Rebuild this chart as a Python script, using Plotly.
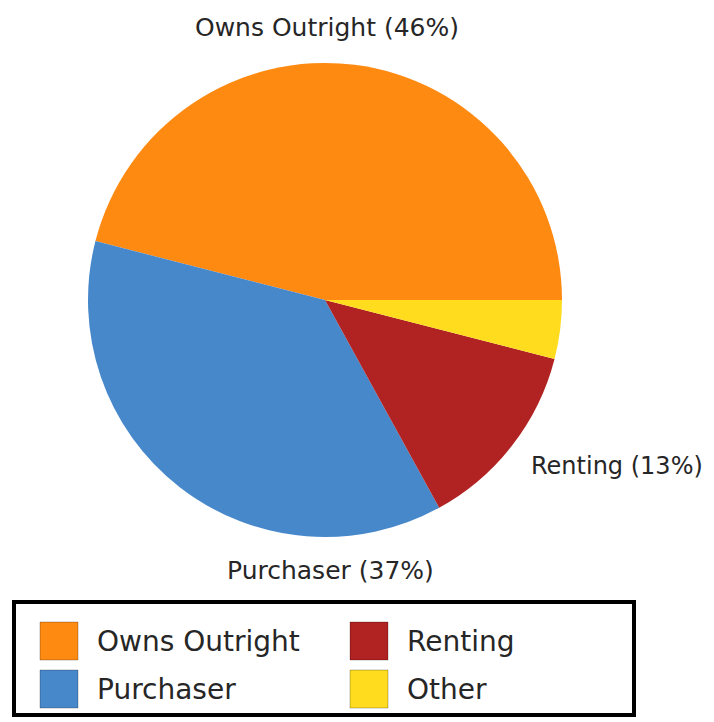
import plotly.graph_objects as go

categories = ["Owns Outright", "Purchaser", "Renting", "Other"]
shares = [46, 37, 13, 4]
colors = ["#FF8A12", "#4788CB", "#B12222", "#FFDC1E"]
legend_order = ["Owns Outright", "Renting", "Purchaser", "Other"]

# page has an 8px body margin, so figure coordinates = reference coordinates - 8
W, H = 706, 714
FONT = "DejaVu Sans"
label_pos = {"Owns Outright": (319, 19, 25), "Purchaser": (322, 562, 25), "Renting": (609, 458, 24)}

total = sum(shares)
rot = 90 - 360 * shares[0] / total

fig = go.Figure(go.Pie(
    labels=categories, values=shares, sort=False,
    direction="counterclockwise", rotation=rot,
    marker=dict(colors=colors, line=dict(width=0)),
    textinfo="none", hoverinfo="label+percent", showlegend=False,
    domain=dict(x=[80 / W, 554 / W], y=[1 - 529 / H, 1 - 55 / H]),
))

anns = []
for cat, val in zip(categories, shares):
    if cat in label_pos:
        x, y, fs = label_pos[cat]
        anns.append(dict(x=x / W, y=1 - y / H, xref="paper", yref="paper", text=f"{cat} ({val}%)",
                         showarrow=False, font=dict(family=FONT, size=fs, color="#262626"),
                         xanchor="center", yanchor="middle"))

shapes = [dict(type="rect", xref="paper", yref="paper",
               x0=6 / W, x1=626 / W, y0=1 - 707 / H, y1=1 - 594 / H,
               line=dict(color="black", width=4), fillcolor="white")]

col_x = [32, 342]
row_y = [614, 662]
cmap = dict(zip(categories, colors))
for i, cat in enumerate(legend_order):
    cx = col_x[i % 2]
    ry = row_y[i // 2]
    shapes.append(dict(type="rect", xref="paper", yref="paper",
                       x0=cx / W, x1=(cx + 38) / W, y0=1 - (ry + 38) / H, y1=1 - ry / H,
                       fillcolor=cmap[cat], line=dict(color="rgba(0,0,0,0.25)", width=1)))
    anns.append(dict(x=(cx + 55) / W, y=1 - (ry + 19) / H, xref="paper", yref="paper",
                     text=cat, showarrow=False, xanchor="left", yanchor="middle",
                     font=dict(family=FONT, size=28, color="#262626")))

fig.update_layout(
    width=W, height=H, margin=dict(l=0, r=0, t=0, b=0),
    paper_bgcolor="white", plot_bgcolor="white",
    shapes=shapes, annotations=anns,
)

fig.write_html("out.html")
